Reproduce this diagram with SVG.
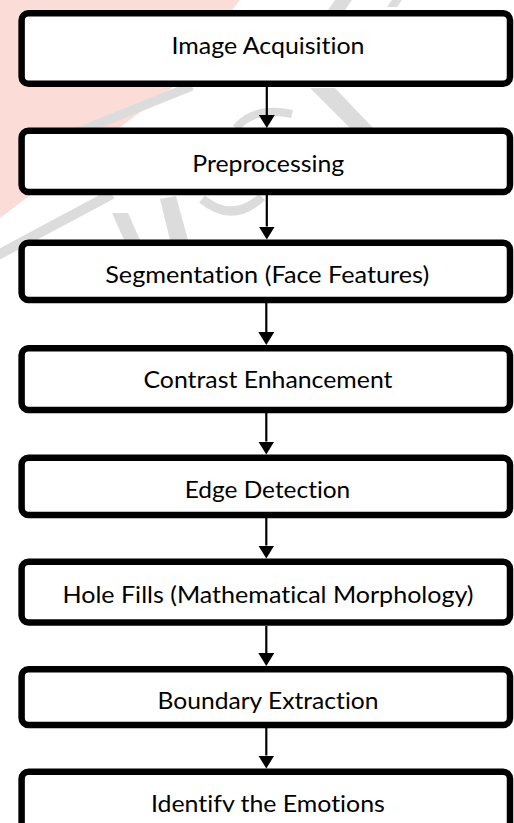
<svg xmlns="http://www.w3.org/2000/svg" width="514" height="823" viewBox="0 0 514 823">
<style>
.box{fill:#ffffff;stroke:#000000;stroke-width:6.5}
.lbl{font-family:Lato,"Liberation Sans",Arial,sans-serif;font-size:23.5px;fill:#000000;text-anchor:middle;font-variant-ligatures:none;font-feature-settings:"liga" 0,"clig" 0}
.conn{stroke:#000000;stroke-width:2.2;fill:none}
.wmp{fill:#fcdcd6}
.wmg{fill:#dcdcdc}
.wms{stroke:#dcdcdc;fill:none}
</style>
<defs>
<marker id="ah" viewBox="0 0 13 16" markerWidth="13" markerHeight="16" refX="0" refY="8" orient="auto" markerUnits="userSpaceOnUse">
<path d="M0,0 L13,8 L0,16 Z" fill="#000000"/>
</marker>
<clipPath id="cutlast"><rect x="0" y="760" width="514" height="52"/></clipPath>
</defs>
<rect x="0" y="0" width="514" height="823" fill="#ffffff"/>
<g id="watermark">
<polygon class="wmp" points="0,0 240,0 172,88 0,218"/>
<line class="wms" x1="78" y1="132" x2="192" y2="86" stroke-width="9"/>
<line class="wms" x1="-4" y1="256" x2="112" y2="194" stroke-width="10"/>
<polygon class="wmg" points="310,88 335,88 373,128 350,128"/>
<path class="wms" d="M236,128 Q255,106 292,114" stroke-width="8"/>
<polygon class="wmg" points="112,213 128,213 140,240 124,240"/>
<polygon class="wmg" points="160,199 176,196 188,240 170,240"/>
<path class="wms" d="M202,199 Q232,224 262,197" stroke-width="9"/>
<polygon class="wmg" points="335,0 352,0 345,10 328,10"/>
<polygon class="wmg" points="392,0 402,0 397,7 387,7"/>
</g>
<g id="connectors">
<line class="conn" x1="266.8" y1="87" x2="266.8" y2="115" marker-end="url(#ah)"/>
<line class="conn" x1="266.8" y1="195" x2="266.8" y2="226.5" marker-end="url(#ah)"/>
<line class="conn" x1="266.3" y1="303" x2="266.3" y2="332" marker-end="url(#ah)"/>
<line class="conn" x1="266.3" y1="413" x2="266.3" y2="441.5" marker-end="url(#ah)"/>
<line class="conn" x1="266.3" y1="518" x2="266.3" y2="545.5" marker-end="url(#ah)"/>
<line class="conn" x1="266.3" y1="626" x2="266.3" y2="653" marker-end="url(#ah)"/>
<line class="conn" x1="266.3" y1="728" x2="266.3" y2="755.5" marker-end="url(#ah)"/>
</g>
<g id="n1"><rect class="box" x="21.6" y="13.3" width="488.4" height="70.4" rx="7"/><text class="lbl" x="268" y="54.3" textLength="193" lengthAdjust="spacingAndGlyphs">Image Acquisition</text></g>
<g id="n2"><rect class="box" x="21.6" y="130.7" width="488.4" height="61.3" rx="7"/><text class="lbl" x="268.2" y="171.7" textLength="152" lengthAdjust="spacingAndGlyphs">Preprocessing</text></g>
<g id="n3"><rect class="box" x="21.6" y="242.7" width="488.4" height="57.3" rx="7"/><text class="lbl" x="267.2" y="283.3" textLength="324" lengthAdjust="spacingAndGlyphs">Segmentation (Face Features)</text></g>
<g id="n4"><rect class="box" x="21.6" y="348.3" width="488.4" height="61.7" rx="7"/><text class="lbl" x="268" y="388.3" textLength="249" lengthAdjust="spacingAndGlyphs">Contrast Enhancement</text></g>
<g id="n5"><rect class="box" x="21.6" y="457.7" width="488.4" height="57.3" rx="7"/><text class="lbl" x="267.5" y="497.7" textLength="165.5" lengthAdjust="spacingAndGlyphs">Edge Detection</text></g>
<g id="n6"><rect class="box" x="21.6" y="561.7" width="488.4" height="60.8" rx="7"/><text class="lbl" x="268" y="602.7" textLength="411" lengthAdjust="spacingAndGlyphs">Hole Fills (Mathematical Morphology)</text></g>
<g id="n7"><rect class="box" x="21.6" y="669.3" width="488.4" height="55.7" rx="7"/><text class="lbl" x="268" y="709.3" textLength="221" lengthAdjust="spacingAndGlyphs">Boundary Extraction</text></g>
<g id="n8"><rect class="box" x="21.6" y="771.7" width="488.4" height="80" rx="7"/><text class="lbl" x="267.9" y="811.5" textLength="234" lengthAdjust="spacingAndGlyphs" clip-path="url(#cutlast)">Identify the Emotions</text></g>
</svg>
